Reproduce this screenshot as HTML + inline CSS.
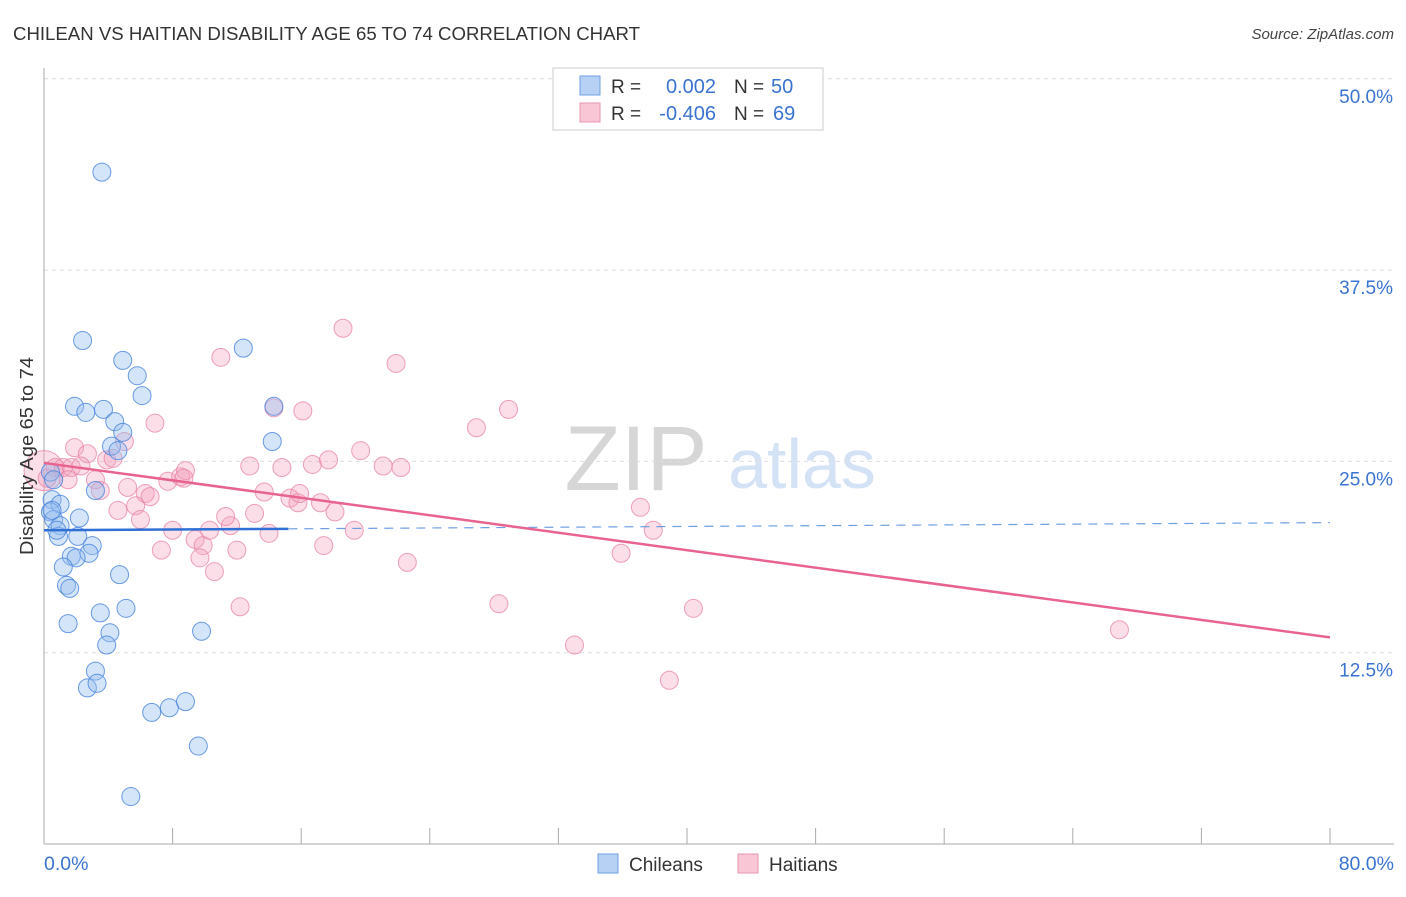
<!DOCTYPE html>
<html><head><meta charset="utf-8"><style>
body{margin:0;background:#fff;font-family:"Liberation Sans",sans-serif;}
svg text{font-family:"Liberation Sans",sans-serif;}
</style></head><body>
<svg width="1406" height="892" viewBox="0 0 1406 892" xmlns="http://www.w3.org/2000/svg" id="chart">
<text x="13" y="40" font-size="18" fill="#333" textLength="627" lengthAdjust="spacingAndGlyphs">CHILEAN VS HAITIAN DISABILITY AGE 65 TO 74 CORRELATION CHART</text>
<text x="1394" y="39" font-size="15" fill="#444" text-anchor="end" font-style="italic">Source: ZipAtlas.com</text>
<g><text x="636" y="490" font-size="92" fill="#d6d6d6" text-anchor="middle" font-family="Liberation Serif">ZIP</text><text x="802" y="488" font-size="70" fill="#d4e2f5" text-anchor="middle">atlas</text></g>
<g id="grid"></g>
<g id="axes"></g>
<g id="pts"></g>
<g id="trend"></g>
<text transform="translate(33,456) rotate(-90)" font-size="18" fill="#333" text-anchor="middle" textLength="198" lengthAdjust="spacingAndGlyphs">Disability Age 65 to 74</text>
<g>
<rect x="553" y="68" width="270" height="62" fill="#fff" stroke="#ccc"/>
<rect x="580" y="76" width="20" height="19" fill="#b7d1f5" stroke="#6f9fe0"/>
<rect x="580" y="103" width="20" height="19" fill="#f9c6d5" stroke="#e896b0"/>
<text x="611" y="93" font-size="19" fill="#333">R =</text><text x="716" y="93" font-size="20" fill="#3a74d0" text-anchor="end">0.002</text>
<text x="734" y="93" font-size="19" fill="#333">N =</text><text x="771" y="93" font-size="20" fill="#3a74d0">50</text>
<text x="611" y="120" font-size="19" fill="#333">R =</text><text x="716" y="120" font-size="20" fill="#3a74d0" text-anchor="end">-0.406</text>
<text x="734" y="120" font-size="19" fill="#333">N =</text><text x="773" y="120" font-size="20" fill="#3a74d0">69</text>
</g>
<g>
<rect x="598" y="854" width="20" height="19" fill="#b7d1f5" stroke="#6f9fe0"/>
<text x="629" y="871" font-size="19" fill="#333">Chileans</text>
<rect x="738" y="854" width="20" height="19" fill="#f9c6d5" stroke="#e896b0"/>
<text x="769" y="871" font-size="19" fill="#333">Haitians</text>
</g>
</svg>
<script>
const blueX=[3.6,2.4,4.9,5.8,6.1,12.4,1.9,2.6,3.7,4.4,4.9,4.2,4.6,14.3,14.2,0.4,0.6,3.2,0.5,1.0,0.4,2.2,0.6,1.0,0.9,2.1,3.0,1.7,2.8,2.0,1.2,4.7,1.4,1.6,3.5,5.1,1.5,4.1,3.9,9.8,3.2,2.7,3.3,6.7,7.8,8.8,9.6,5.4,0.5,0.8];
const blueY=[43.9,32.9,31.6,30.6,29.3,32.4,28.6,28.2,28.4,27.6,26.9,26.0,25.7,28.6,26.3,24.3,23.8,23.1,22.5,22.2,21.7,21.3,21.2,20.8,20.1,20.1,19.5,18.8,19.0,18.7,18.1,17.6,16.9,16.7,15.1,15.4,14.4,13.8,13.0,13.9,11.3,10.2,10.5,8.6,8.9,9.3,6.4,3.1,21.8,20.5];
const pinkX=[0,0.7,1.2,1.7,0.2,1.5,1.9,2.7,2.3,3.9,4.3,5.0,6.9,3.2,3.5,5.2,6.3,6.6,4.6,5.7,6.0,7.7,8.5,8.8,8.7,7.3,8.0,9.4,9.9,9.7,10.6,10.3,11.6,11.3,12.0,12.2,11.0,12.8,13.1,13.7,14.0,14.8,14.3,15.3,15.8,15.9,16.1,16.7,17.2,17.7,18.1,17.4,18.6,19.3,19.7,21.1,21.9,22.2,22.6,26.9,28.9,28.3,33.0,35.9,37.1,37.9,40.4,38.9,66.9];
const pinkY=[24.4,24.6,24.6,24.6,23.9,23.8,25.9,25.5,24.7,25.1,25.2,26.3,27.5,23.8,23.1,23.3,22.9,22.7,21.8,22.1,21.2,23.7,24.0,24.4,23.9,19.2,20.5,19.9,19.5,18.7,17.8,20.5,20.8,21.4,19.2,15.5,31.8,24.7,21.6,23.0,20.3,24.6,28.5,22.6,22.3,22.9,28.3,24.8,22.3,25.1,21.7,19.5,33.7,20.5,25.7,24.7,31.4,24.6,18.4,27.2,28.4,15.7,13.0,19.0,22.0,20.5,15.4,10.7,14.0];
const blueTrend=[20.5,21.0];
const pinkTrend=[24.9,13.5];
const yTicks=[12.5,25.0,37.5,50.0];
const yTickLabels=["12.5%","25.0%","37.5%","50.0%"];
const xTicks=[0,8,16,24,32,40,48,56,64,72,80];
const NS="http://www.w3.org/2000/svg";
const X0=44,X1=1330,Y0=844,PXPER=191.3/12.5;
const sx=v=>X0+v*(X1-X0)/80, sy=v=>Y0-v*PXPER;
function mk(tag,attrs,parent){const e=document.createElementNS(NS,tag);for(const k in attrs)e.setAttribute(k,attrs[k]);document.getElementById(parent).appendChild(e);return e;}
yTicks.forEach((t,i)=>{
  const l=mk('line',{x1:X0,x2:1394,y1:sy(t),y2:sy(t),stroke:'#ddd','stroke-dasharray':'4,4'},'grid');
  
  
  const tx=mk('text',{x:1393,y:sy(t)+24,'font-size':19,fill:'#3a74d0','text-anchor':'end'},'grid');
  tx.textContent=yTickLabels[i];
  
  
});
const ax=mk('line',{x1:X0,x2:X0,y1:68,y2:Y0,stroke:'#aaa'},'axes');


const bx=mk('line',{x1:X0,x2:1394,y1:Y0,y2:Y0,stroke:'#aaa'},'axes');


xTicks.forEach(t=>{
  const l=mk('line',{x1:sx(t),x2:sx(t),y1:Y0,y2:Y0-16,stroke:'#aaa'},'axes');
  
  
});
const xl=mk('text',{x:44,y:870,'font-size':19.5,fill:'#3a74d0'},'axes');xl.textContent='0.0%';


const xr=mk('text',{x:1394,y:870,'font-size':19.5,fill:'#3a74d0','text-anchor':'end'},'axes');xr.textContent='80.0%';


pinkX.forEach((x,i)=>{
  const c=mk('circle',{cx:sx(x),cy:sy(pinkY[i]),r:i===0?20:9,fill:'rgba(244,160,188,0.35)',stroke:'rgba(232,130,165,0.75)','stroke-width':1},'pts');
  
  
});
blueX.forEach((x,i)=>{
  const c=mk('circle',{cx:sx(x),cy:sy(blueY[i]),r:9,fill:'rgba(150,190,240,0.4)',stroke:'rgba(70,130,220,0.8)','stroke-width':1},'pts');
  
  
});
const bAt=x=>blueTrend[0]+(blueTrend[1]-blueTrend[0])*x/80;
const b1=mk('line',{x1:sx(0),y1:sy(bAt(0)),x2:sx(15.2),y2:sy(bAt(15.2)),stroke:'#2f6fd6','stroke-width':2.5},'trend');


const b2=mk('line',{x1:sx(15.2),y1:sy(bAt(15.2)),x2:sx(80),y2:sy(bAt(80)),stroke:'#6f9fe0','stroke-width':1.2,'stroke-dasharray':'9,7'},'trend');


const p1=mk('line',{x1:sx(0),y1:sy(pinkTrend[0]),x2:sx(80),y2:sy(pinkTrend[1]),stroke:'#e8648f','stroke-width':2.5},'trend');


</script>
</body></html>
